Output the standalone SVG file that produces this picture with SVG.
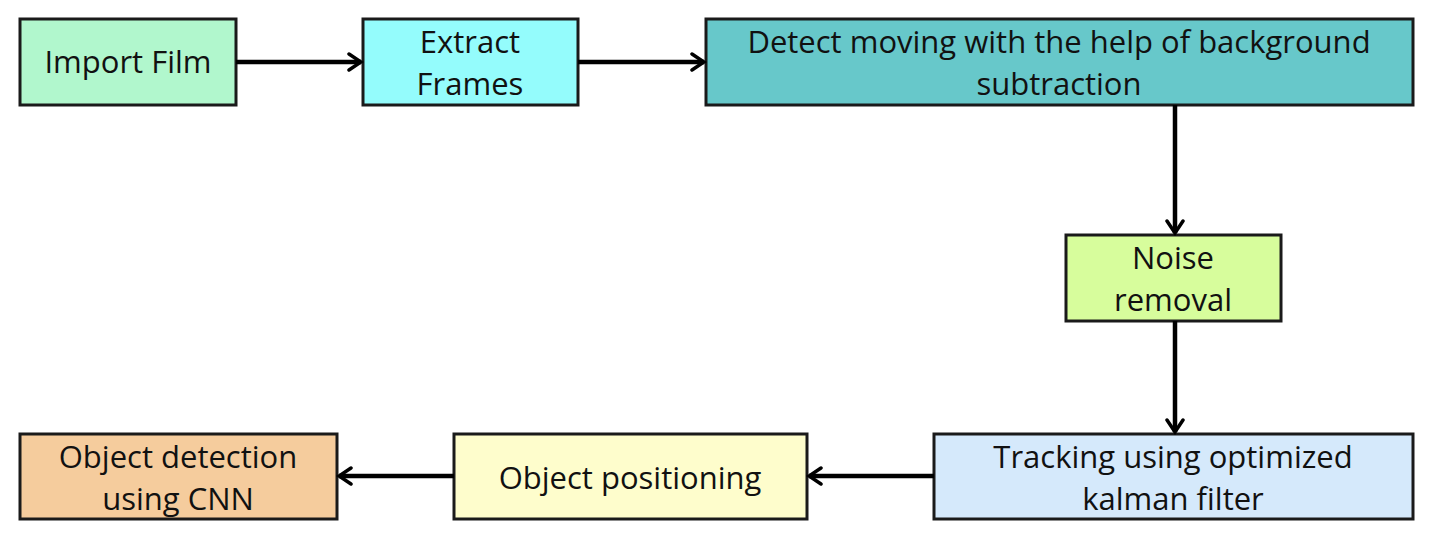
<svg xmlns="http://www.w3.org/2000/svg" width="1432" height="540" viewBox="0 0 1432 540">
<defs>
<style>
.box{stroke:#1a1a1a;stroke-width:3}
.t{font-family:"Open Sans","Liberation Sans",sans-serif;font-size:31px;fill:#111;text-anchor:middle}
.c{stroke:#000;stroke-width:4.5;fill:none}
</style>
<marker id="ah" viewBox="0 0 20 20" refX="17" refY="10" markerWidth="20" markerHeight="20" markerUnits="userSpaceOnUse" orient="auto">
<path d="M5,2 L17,10 L5,18" fill="none" stroke="#000" stroke-width="3.5" stroke-linecap="round" stroke-linejoin="miter"/>
</marker>
</defs>
<rect width="1432" height="540" fill="#fff"/>
<g id="n1"><rect class="box" x="20" y="19" width="216" height="86" fill="#b1f7cd"/><text class="t" x="128" y="73">Import Film</text></g>
<g id="n2"><rect class="box" x="363" y="19" width="215" height="86" fill="#94fcfc"/><text class="t" x="470" y="53">Extract</text><text class="t" x="470" y="95">Frames</text></g>
<g id="n3"><rect class="box" x="706" y="19" width="707" height="86" fill="#67c8ca"/><text class="t" x="1059" y="53">Detect moving with the help of background</text><text class="t" x="1059" y="95">subtraction</text></g>
<g id="n4"><rect class="box" x="1066" y="235" width="215" height="86" fill="#d7fd9c"/><text class="t" x="1173" y="269">Noise</text><text class="t" x="1173" y="311">removal</text></g>
<g id="n5"><rect class="box" x="934" y="434" width="479" height="85" fill="#d5e9fb"/><text class="t" x="1173" y="468">Tracking using optimized</text><text class="t" x="1173" y="510">kalman filter</text></g>
<g id="n6"><rect class="box" x="454" y="434" width="353" height="85" fill="#fefdcc"/><text class="t" x="630" y="489">Object positioning</text></g>
<g id="n7"><rect class="box" x="20" y="434" width="317" height="85" fill="#f5cc9d"/><text class="t" x="178" y="468">Object detection</text><text class="t" x="178" y="510">using CNN</text></g>
<g id="connectors">
<line class="c" x1="236" y1="62" x2="361" y2="62" marker-end="url(#ah)"/>
<line class="c" x1="578" y1="62" x2="704" y2="62" marker-end="url(#ah)"/>
<line class="c" x1="1175" y1="105" x2="1175" y2="233" marker-end="url(#ah)"/>
<line class="c" x1="1175" y1="321" x2="1175" y2="432" marker-end="url(#ah)"/>
<line class="c" x1="934" y1="476" x2="809" y2="476" marker-end="url(#ah)"/>
<line class="c" x1="454" y1="476" x2="339" y2="476" marker-end="url(#ah)"/>
</g>
</svg>
